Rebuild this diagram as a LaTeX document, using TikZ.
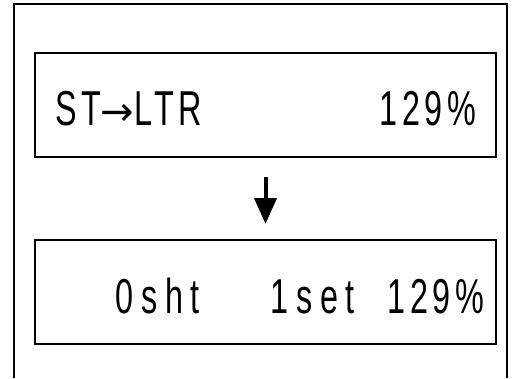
\documentclass[tikz,border=0pt]{standalone}
\usepackage{fontspec}
\usetikzlibrary{arrows.meta,positioning}
\newfontfamily\lcdfont[FakeStretch=0.66,LetterSpace=9]{Liberation Sans}
\newfontfamily\lcdwidefont[FakeStretch=0.66,LetterSpace=16]{Liberation Sans}
\newfontfamily\symfont{DejaVu Sans}
\newcommand{\lcdarrow}{{\symfont\fontsize{40}{40}\selectfont →}}

\begin{document}
\begin{tikzpicture}[
  x=1pt,y=-1pt,
  >=Triangle,
  panel/.style={draw,line width=2pt,minimum width=461pt,minimum height=104pt,inner sep=0pt},
  lcd/.style={font=\lcdfont\fontsize{49}{49}\selectfont,inner sep=0pt},
  lcdwide/.style={font=\lcdwidefont\fontsize{49}{49}\selectfont,inner sep=0pt}
]
  \useasboundingbox (0,0) rectangle (512,378);
  % outer frame, open at the bottom
  \draw[line width=1.5pt] (14,378) -- (14,4) -- (507,4) -- (507,378);
  \node[panel] (before) at (265.5,105) {};
  \node[panel] (after) at (265.5,292) {};
  % display texts
  \node[lcd,anchor=base west] (mode) at (55,125) {ST\lcdarrow LTR};
  \node[lcd,anchor=base east] (ratio) at (476,125) {129\%};
  \node[lcdwide,anchor=base west] (sheets) at (115,313) {0sht};
  \node[lcdwide,anchor=base west] (sets) at (270,313) {1set};
  \node[lcd,anchor=base east] (ratiob) at (484,313) {129\%};
  \draw[line width=4pt,-{Triangle[width=22pt,length=26pt]},shorten <=19pt,shorten >=15pt]
    (before) -- (after);
\end{tikzpicture}
\end{document}
